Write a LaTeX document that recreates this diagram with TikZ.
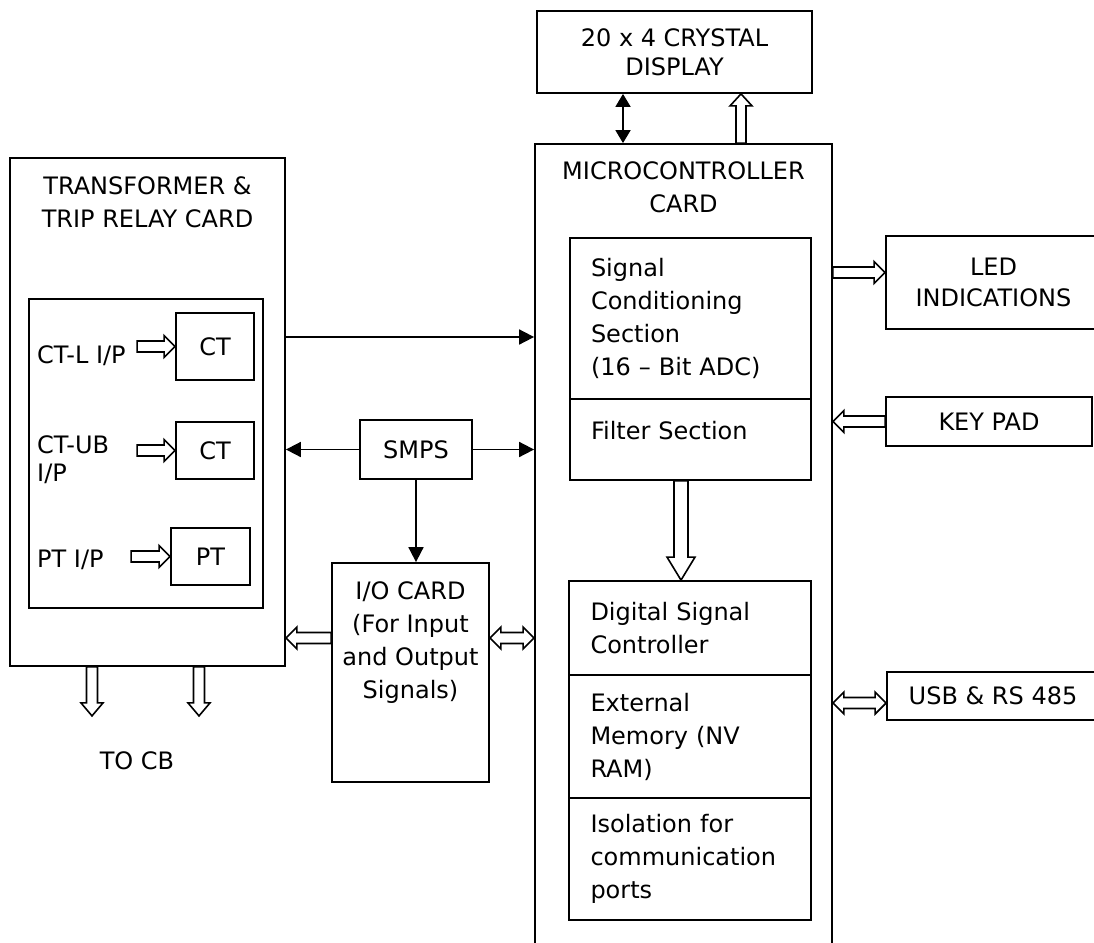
\documentclass[tikz,border=0pt]{standalone}
\usepackage{fontspec}
\setmainfont{DejaVu Sans}
\usetikzlibrary{positioning, arrows.meta, calc}

\begin{document}
\begin{tikzpicture}[
    x=1pt, y=-1pt,
    % ====================
    % NODE STYLES
    % ====================
    box/.style={
        draw, line width=1.8pt, inner sep=0pt,
        align=center, font=\fontsize{24}{33}\selectfont
    },
    part/.style={
        box, align=left, text width=199pt, inner xsep=21pt
    },
    title/.style={
        inner sep=0pt, align=center, font=\fontsize{24}{33}\selectfont
    },
    line/.style={
        draw, line width=1.8pt, -{Triangle[length=15pt, width=15pt]}
    },
    biline/.style={
        line, {Triangle[length=13pt, width=15pt]}-{Triangle[length=13pt, width=15pt]}
    },
    % hollow (outlined) arrows
    hw/.store in=\hshaft, hh/.store in=\hhead, hl/.store in=\hlen,
    hw=5.5pt, hh=11pt, hl=11pt,
    hollow/.style={
        draw, line width=1.6pt, fill=white,
        to path={
            ($(\tikztostart)!\hshaft!90:(\tikztotarget)$)
            -- ($(\tikztotarget)!\hlen!(\tikztostart)!\hshaft!-90:(\tikztostart)$)
            -- ($(\tikztotarget)!\hlen!(\tikztostart)!\hhead!-90:(\tikztostart)$)
            -- (\tikztotarget)
            -- ($(\tikztotarget)!\hlen!(\tikztostart)!\hhead!90:(\tikztostart)$)
            -- ($(\tikztotarget)!\hlen!(\tikztostart)!\hshaft!90:(\tikztostart)$)
            -- ($(\tikztostart)!\hshaft!-90:(\tikztotarget)$)
            -- cycle
        }
    },
    dhollow/.style={
        draw, line width=1.6pt, fill=white,
        to path={
            (\tikztostart)
            -- ($(\tikztostart)!\hlen!(\tikztotarget)!\hhead!90:(\tikztotarget)$)
            -- ($(\tikztostart)!\hlen!(\tikztotarget)!\hshaft!90:(\tikztotarget)$)
            -- ($(\tikztotarget)!\hlen!(\tikztostart)!\hshaft!-90:(\tikztostart)$)
            -- ($(\tikztotarget)!\hlen!(\tikztostart)!\hhead!-90:(\tikztostart)$)
            -- (\tikztotarget)
            -- ($(\tikztotarget)!\hlen!(\tikztostart)!\hhead!90:(\tikztostart)$)
            -- ($(\tikztotarget)!\hlen!(\tikztostart)!\hshaft!90:(\tikztostart)$)
            -- ($(\tikztostart)!\hlen!(\tikztotarget)!\hshaft!-90:(\tikztotarget)$)
            -- ($(\tikztostart)!\hlen!(\tikztotarget)!\hhead!-90:(\tikztotarget)$)
            -- cycle
        }
    }
]

\useasboundingbox (0,0) rectangle (1094,942);
\clip (0,0) rectangle (1094,942);

% ====================
% MAIN CARDS
% ====================
\node[box, minimum width=275pt, minimum height=82pt, font=\fontsize{24}{29}\selectfont]
    (disp) at (674.5,52) {20 x 4 CRYSTAL\\DISPLAY};

\node[box, minimum width=297pt, minimum height=816pt] (micro) at (683.5,552) {};
\node[title, anchor=north] (microtitle) at ([yshift=-18pt]micro.north) {MICROCONTROLLER\\CARD};

\node[box, minimum width=275pt, minimum height=508pt] (trans) at (147.5,412) {};
\node[title, anchor=north] (transtitle) at ([yshift=-19pt]trans.north) {TRANSFORMER \&\\TRIP RELAY CARD};

% Transformer inputs
\node[box, minimum width=234pt, minimum height=309pt] (inner) at (146,453.5) {};
\node[box, minimum width=78pt, minimum height=67pt] (ct1) at (215,346.5) {CT};
\node[box, minimum width=78pt, minimum height=57pt] (ct2) at (215,450.5) {CT};
\node[box, minimum width=79pt, minimum height=57pt] (pt) at (210.5,556.5) {PT};
\node[title, anchor=north west, align=left] (ctlin) at (37,345) {CT-L I/P};
\node[title, anchor=north west, align=left, font=\fontsize{24}{28}\selectfont] (ctubin) at (37,435) {CT-UB\\I/P};
\node[title, anchor=north west, align=left] (ptin) at (37,550) {PT I/P};

% Power supply and I/O
\node[box, minimum width=112pt, minimum height=59pt] (smps) at (416,449.5) {SMPS};
\node[box, minimum width=157pt, minimum height=219pt] (io) at (410.5,672.5) {};
\node[title, anchor=north] (iotitle) at ([yshift=-19pt]io.north) {I/O CARD\\(For Input\\and Output\\Signals)};

\node[title] (tocb) at (137,760.5) {TO CB};

% Microcontroller sections
\node[part, minimum width=241pt, minimum height=161pt] (sigc) at (690.5,318.5)
    {Signal\\Conditioning\\Section\\(16 -- Bit ADC)};
\node[part, minimum width=241pt, minimum height=81pt, text depth=18pt] (filt) at (690.5,439.5)
    {Filter Section};
\node[part, minimum width=242pt, minimum height=94pt] (dsc) at (690,628)
    {Digital Signal\\Controller};
\node[part, minimum width=242pt, minimum height=123pt] (mem) at (690,736.5)
    {External\\Memory (NV\\RAM)};
\node[part, minimum width=242pt, minimum height=122pt] (iso) at (690,859)
    {Isolation for\\communication\\ports};

% Peripherals
\node[box, minimum width=215pt, minimum height=93pt, font=\fontsize{24}{31}\selectfont]
    (led) at (993.5,282.5) {LED\\INDICATIONS};
\node[box, minimum width=206pt, minimum height=49pt] (key) at (989,421.5) {KEY PAD};
\node[box, minimum width=212pt, minimum height=48pt] (usb) at (993,696) {USB \& RS 485};

% ====================
% CONNECTION POINTS
% ====================
\coordinate (dpa) at ([xshift=-51.5pt]disp.south);
\coordinate (dispin) at ([xshift=57.5pt]micro.north);
\coordinate (dispout) at (dispin |- disp.south);
\coordinate (tm) at ([yshift=75pt]trans.east);
\coordinate (iol) at ([yshift=34.5pt]io.west);
\coordinate (iot) at (iol -| trans.east);
\coordinate (ior) at ([yshift=34.5pt]io.east);
\coordinate (iom) at (ior -| micro.west);
\coordinate (cba) at ([xshift=-55.5pt]trans.south);
\coordinate (cbae) at ([yshift=-49pt]cba);
\coordinate (cbb) at ([xshift=51.5pt]trans.south);
\coordinate (cbbe) at ([yshift=-49pt]cbb);
\coordinate (ctla) at ([xshift=-38pt]ct1.west);
\coordinate (ctub) at ([xshift=-38pt]ct2.west);
\coordinate (pta) at ([xshift=-39pt]pt.west);
\coordinate (ledi) at ([yshift=10pt]led.west);
\coordinate (ledo) at (ledi -| micro.east);
\coordinate (keyo) at (key.west -| micro.east);
\coordinate (usbi) at ([yshift=-7pt]usb.west);
\coordinate (usbo) at (usbi -| micro.east);
\coordinate (fo) at ([xshift=-9.5pt]filt.south);
\coordinate (di) at (fo |- dsc.north);

% ====================
% CONNECTORS
% ====================
\draw[biline] (dpa) -- (dpa |- micro.north);
\draw[hollow, hw=5pt, hl=12pt] (dispin) to (dispout);

\draw[line] (tm) -- (tm -| micro.west);
\draw[line] (smps.west) -- (smps.west -| trans.east);
\draw[line] (smps.east) -- (smps.east -| micro.west);
\draw[line] (smps.south) -- (smps.south |- io.north);

\draw[hollow] (iol) to (iot);
\draw[dhollow] (ior) to (iom);
\draw[hollow, hl=13pt] (cba) to (cbae);
\draw[hollow, hl=13pt] (cbb) to (cbbe);

\draw[hollow] (ctla) to (ct1.west);
\draw[hollow] (ctub) to (ct2.west);
\draw[hollow] (pta) to (pt.west);

\draw[hollow, hw=7pt, hh=14pt, hl=23pt] (fo) to (di);

\draw[hollow] (ledo) to (ledi);
\draw[hollow] (key.west) to (keyo);
\draw[dhollow] (usbo) to (usbi);

\end{tikzpicture}
\end{document}
